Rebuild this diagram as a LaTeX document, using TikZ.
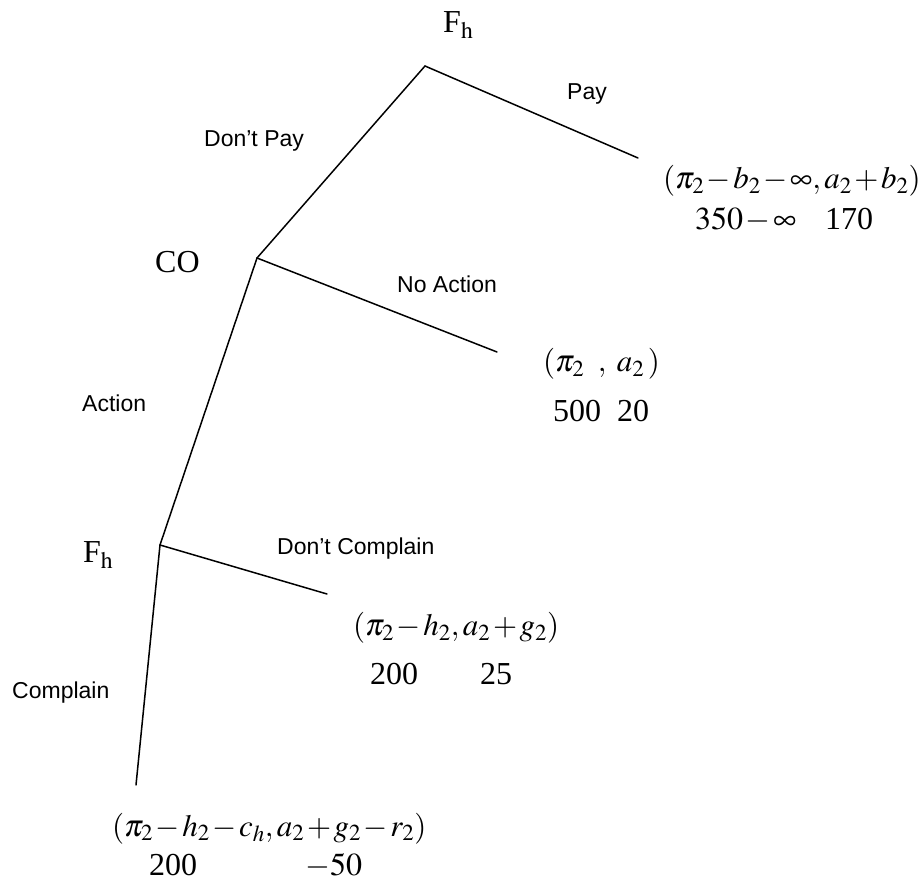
\documentclass[tikz,border=0pt]{standalone}
\usepackage{mathptmx}
\usepackage{fontspec}
\setmainfont{Liberation Serif}
\setsansfont{Liberation Sans}
\AtBeginDocument{\medmuskip=1.5mu plus 1mu minus 1.5mu\relax}
\begin{document}
\begin{tikzpicture}[x=1pt,y=-1pt,
  edge/.style={line width=1.5pt, line cap=round},
  ser/.style={inner sep=0pt, anchor=base west, font=\fontsize{32}{36}\selectfont},
  pay/.style={inner sep=0pt, anchor=base west, font=\fontsize{31}{36}\selectfont},
  lab/.style={inner sep=0pt, anchor=base west, font=\sffamily\fontsize{23}{27}\selectfont}]
\useasboundingbox (0,0) rectangle (922,882);
% vertices
\coordinate (v1) at (425,66);
\coordinate (t1) at (638,158);
\coordinate (v2) at (257,258);
\coordinate (t2) at (497,352);
\coordinate (v3) at (160,545);
\coordinate (t3) at (327,594);
\coordinate (t4) at (136,785);
% edges
\draw[edge] (v1) -- (t1);
\draw[edge] (v1) -- (v2);
\draw[edge] (v2) -- (t2);
\draw[edge] (v2) -- (v3);
\draw[edge] (v3) -- (t3);
\draw[edge] (v3) -- (t4);
% player labels
\node[ser] (p1) at (443,33) {F$_{\mathrm{h}}$};
\node[ser] (p2) at (155,273) {CO};
\node[ser] (p3) at (83,563) {F$_{\mathrm{h}}$};
% action labels
\node[lab] (a1) at (567,100) {Pay};
\node[lab] (a2) at (204,147) {Don’t Pay};
\node[lab] (a3) at (397,293) {No Action};
\node[lab] (a4) at (82,412) {Action};
\node[lab] (a5) at (277,555) {Don’t Complain};
\node[lab] (a6) at (12,698) {Complain};
% payoffs
\node[pay] (o1) at (663,189) {$(\pi_2-b_2-\infty, a_2+b_2)$};
\node[ser] (o1a) at (695,230) {$350-\infty$};
\node[ser] (o1b) at (825,230) {170};
\node[pay] (o2) at (543,372) {$(\pi_2\;\;,\;a_2\,)$};
\node[ser] (o2a) at (553,422) {500};
\node[ser] (o2b) at (617,422) {20};
\node[pay] (o3) at (353,636) {$(\pi_2-h_2, a_2+g_2)$};
\node[ser] (o3a) at (370,684) {200};
\node[ser] (o3b) at (480,684) {25};
\node[pay] (o4) at (112,836) {$(\pi_2-h_2-c_h, a_2+g_2-r_2)$};
\node[ser] (o4a) at (149,875) {200};
\node[ser] (o4b) at (305,875) {$-50$};
\end{tikzpicture}
\end{document}
